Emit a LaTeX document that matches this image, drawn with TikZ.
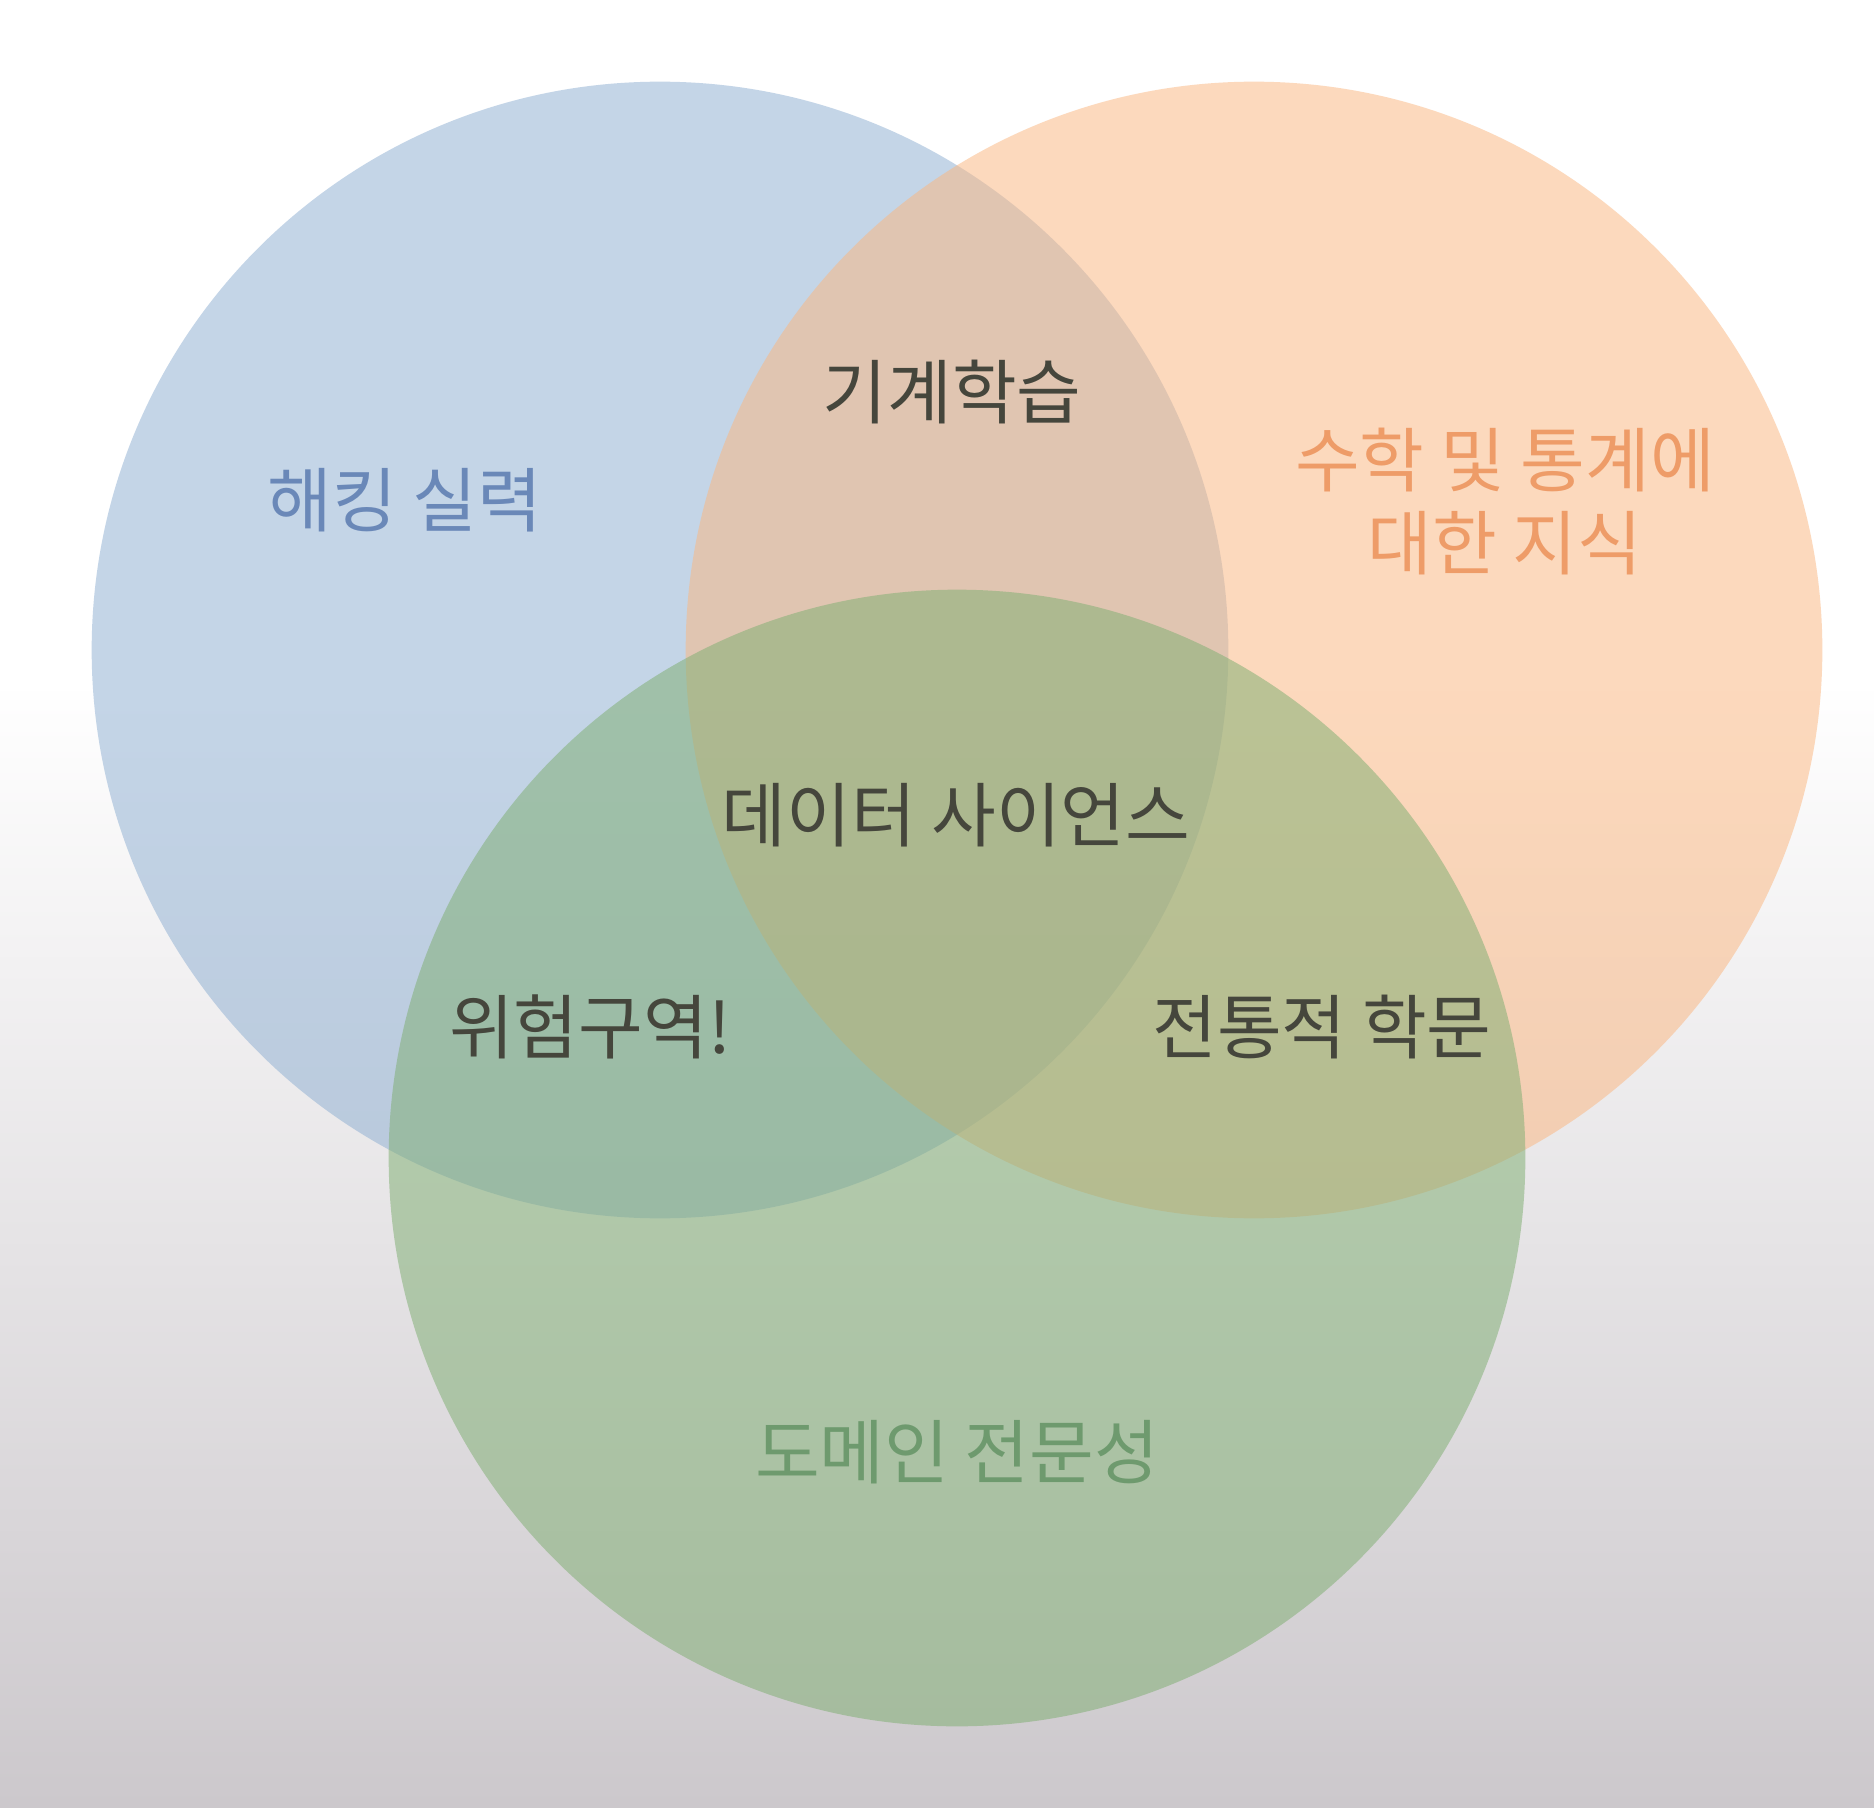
\documentclass[tikz,border=0pt]{standalone}
\usepackage{fontspec}
\setmainfont{Noto Sans CJK KR}

\begin{document}
\begin{tikzpicture}[x=0.01cm, y=-0.01cm, font=\fontsize{20pt}{23.6pt}\selectfont]
    % Define colours
    \definecolor{hackColour}{HTML}{8BADD1}
    \definecolor{mathColour}{HTML}{FBB781}
    \definecolor{domainColour}{HTML}{7FAE72}
    \definecolor{hackText}{HTML}{6A88B8}
    \definecolor{mathText}{HTML}{EE9C68}
    \definecolor{domainText}{HTML}{6E9A6E}
    \definecolor{darkText}{HTML}{45463C}
    \definecolor{bgBottom}{HTML}{CCC8CC}

    % Define circle radius
    \def\vennRadius{5.68cm}

    % Draw background
    \useasboundingbox (0,0) rectangle (1874,1807);
    \fill[white] (0,0) rectangle (1874,680);
    \shade[top color=white, bottom color=bgBottom] (0,680) rectangle (1874,1807);

    % Define centres of the circles
    \coordinate (H) at (660,650);
    \coordinate (M) at (1254,650);
    \coordinate (D) at (957,1158);

    % Draw the circles
    \fill[hackColour, fill opacity=0.5] (H) circle (\vennRadius);
    \fill[mathColour, fill opacity=0.52] (M) circle (\vennRadius);
    \fill[domainColour, fill opacity=0.52] (D) circle (\vennRadius);

    % Label the regions
    \node[text=hackText] (hacking) at (405,500) {해킹 실력};
    \node[text=mathText, align=center] (math) at (1505,502) {수학 및 통계에\\대한 지식};
    \node[text=domainText] (domain) at (957,1452) {도메인 전문성};
    \node[text=darkText] (ml) at (952,392) {기계학습};
    \node[text=darkText] (danger) at (590,1027) {위험구역!};
    \node[text=darkText] (research) at (1322,1027) {전통적 학문};
    \node[text=darkText] (ds) at (956,815) {데이터 사이언스};

\end{tikzpicture}
\end{document}
